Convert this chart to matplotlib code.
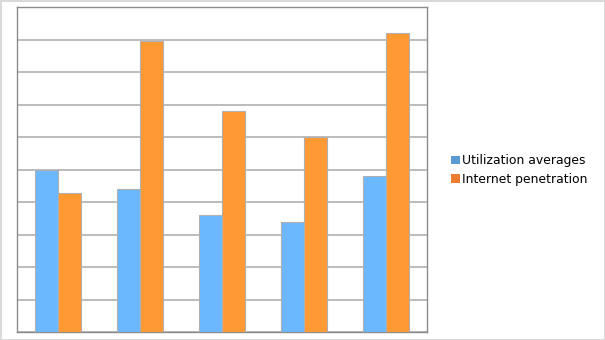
import matplotlib
matplotlib.use("Agg")
import matplotlib.pyplot as plt
from matplotlib.patches import Patch
import numpy as np

# values (grid units, 0-10)
categories = ["1", "2", "3", "4", "5"]
utilization = [5.0, 4.4, 3.6, 3.4, 4.8]
internet = [4.27, 8.95, 6.8, 6.0, 9.2]

fig = plt.figure(figsize=(6.05, 3.4), dpi=100)
fig.patch.set_facecolor("white")
fig.patch.set_edgecolor("#d9d9d9")
fig.patch.set_linewidth(2)

ax = fig.add_axes([17 / 605, 1 - 332 / 340, 410 / 605, 325 / 340])

x = np.arange(len(categories))
w = 0.285
ax.bar(x - w / 2, utilization, w, color="#6bb8ff", edgecolor="#b0b0b0", linewidth=0.8, zorder=3)
ax.bar(x + w / 2, internet, w, color="#ff9933", edgecolor="#b0b0b0", linewidth=0.8, zorder=3)

ax.set_xlim(-0.5, len(categories) - 0.5)
ax.set_ylim(0, 10)
ax.set_yticks(np.arange(0, 11, 1))
ax.set_xticks([])
ax.tick_params(axis="y", length=0, labelleft=False)
ax.yaxis.grid(True, color="#b0b0b0", linewidth=1.2, zorder=0)
ax.set_axisbelow(True)
for s in ax.spines.values():
    s.set_color("#8c8c8c")
    s.set_linewidth(1)

handles = [Patch(facecolor="#5b9bd5", edgecolor="none", label="Utilization averages"),
           Patch(facecolor="#ed7d31", edgecolor="none", label="Internet penetration")]
fig.legend(handles=handles, loc="center left", bbox_to_anchor=(445 / 605, 1 - 170 / 340),
           frameon=False, fontsize=8.9, handlelength=0.7, handleheight=0.7,
           handletextpad=0.2, labelspacing=0.45, borderpad=0)

fig.savefig("out.png", dpi=100)
